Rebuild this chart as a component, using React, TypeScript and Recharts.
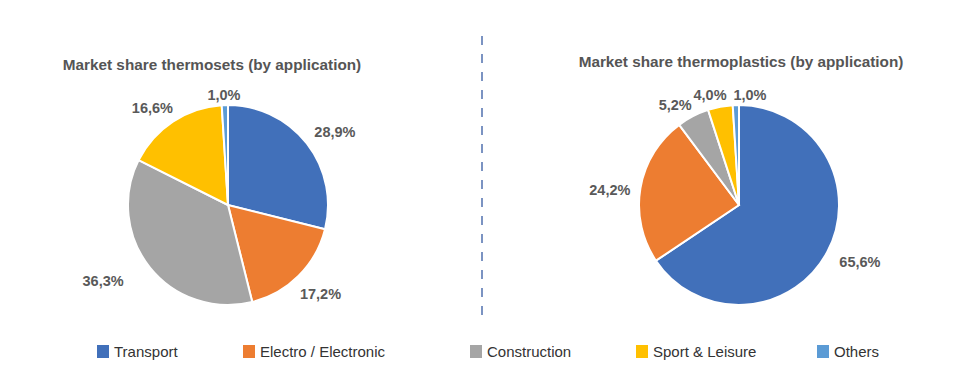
import React from "react";
import { PieChart, Pie, Cell } from "recharts";

const categories = ["Transport", "Electro / Electronic", "Construction", "Sport & Leisure", "Others"];
const thermosetValues = [28.9, 17.2, 36.3, 16.6, 1.0];
const thermoplasticValues = [65.6, 24.2, 5.2, 4.0, 1.0];
const titles = ["Market share thermosets (by application)", "Market share thermoplastics (by application)"];

const COLORS = ["#4170BA", "#ED7D31", "#A5A5A5", "#FFC000", "#5B9BD5"];
const FONT = "'Liberation Sans', Arial, Helvetica, sans-serif";
const RAD = Math.PI / 180;

const leftNudge = [[6, 6], [2, -2], [-25, -4], [-5, 10], [0, 18]];
const rightNudge = [[8, -3], [-3, 7], [-5, 14], [-5, 16], [15, 18]];
const legendX = [97, 243, 470, 636, 817];

const leftData = categories.map((name, i) => ({ name, value: thermosetValues[i] }));
const rightData = categories.map((name, i) => ({ name, value: thermoplasticValues[i] }));

const fmt = (v: number) => v.toFixed(1).replace(".", ",") + "%";

const makeLabel = (nudge: number[][]) => (props: any) => {
  const { cx, cy, midAngle, outerRadius, index, value } = props;
  const r = outerRadius + 28;
  const x = cx + r * Math.cos(-midAngle * RAD) + nudge[index][0];
  const y = cy + r * Math.sin(-midAngle * RAD) + nudge[index][1];
  return (
    <text
      x={x}
      y={y}
      textAnchor="middle"
      dominantBaseline="central"
      fill="#595959"
      fontSize={14.5}
      fontWeight="bold"
      fontFamily={FONT}
    >
      {fmt(value)}
    </text>
  );
};

export default function App() {
  return (
    <div style={{ position: "absolute", left: 0, top: 0, width: 958, height: 378, background: "#fff", fontFamily: FONT }}>
      <div style={{ position: "absolute", left: 0, top: 0 }}>
        <PieChart width={958} height={378} margin={{ top: 0, right: 0, bottom: 0, left: 0 }}>
          <Pie
            data={leftData}
            dataKey="value"
            nameKey="name"
            cx={228}
            cy={205}
            outerRadius={100}
            startAngle={90}
            endAngle={-270}
            stroke="#fff"
            strokeWidth={2}
            label={makeLabel(leftNudge)}
            labelLine={false}
            isAnimationActive={false}
          >
            {leftData.map((d, i) => (
              <Cell key={d.name} fill={COLORS[i]} />
            ))}
          </Pie>
          <Pie
            data={rightData}
            dataKey="value"
            nameKey="name"
            cx={739}
            cy={205}
            outerRadius={100}
            startAngle={90}
            endAngle={-270}
            stroke="#fff"
            strokeWidth={2}
            label={makeLabel(rightNudge)}
            labelLine={false}
            isAnimationActive={false}
          >
            {rightData.map((d, i) => (
              <Cell key={d.name} fill={COLORS[i]} />
            ))}
          </Pie>
        </PieChart>
      </div>
      <div style={{ position: "absolute", left: 212, top: 56, transform: "translateX(-50%)", whiteSpace: "nowrap", fontSize: 15.3, fontWeight: "bold", color: "#555" }}>
        {titles[0]}
      </div>
      <div style={{ position: "absolute", left: 741, top: 53, transform: "translateX(-50%)", whiteSpace: "nowrap", fontSize: 15.3, fontWeight: "bold", color: "#555" }}>
        {titles[1]}
      </div>
      <svg style={{ position: "absolute", left: 0, top: 0 }} width={958} height={378}>
        <line x1={482} y1={36} x2={482} y2={320} stroke="#7b93c2" strokeWidth={2} strokeDasharray="9 9" />
      </svg>
      {categories.map((c, i) => (
        <div key={c} style={{ position: "absolute", left: legendX[i], top: 343, display: "flex", alignItems: "center", whiteSpace: "nowrap" }}>
          <span style={{ display: "inline-block", width: 12, height: 13, background: COLORS[i], marginRight: 5 }} />
          <span style={{ fontSize: 15, color: "#333" }}>{c}</span>
        </div>
      ))}
    </div>
  );
}
